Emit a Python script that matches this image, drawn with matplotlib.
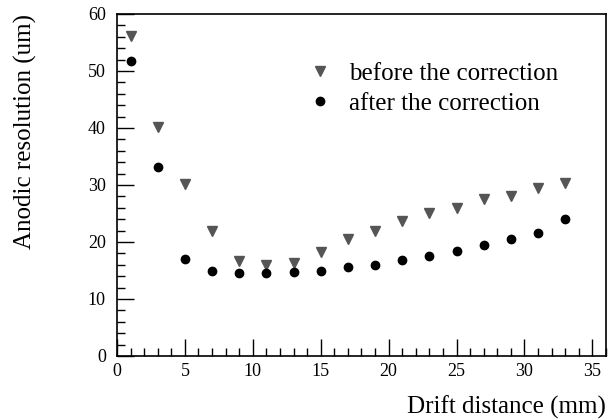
import matplotlib
matplotlib.use("Agg")
import matplotlib.pyplot as plt
from matplotlib.ticker import MultipleLocator

# drift distance (mm) and anodic resolution (um)
drift = [1, 3, 5, 7, 9, 11, 13, 15, 17, 19, 21, 23, 25, 27, 29, 31, 33]
before = [56.2, 40.2, 30.1, 21.9, 16.7, 15.9, 16.4, 18.3, 20.6, 21.9,
          23.7, 25.1, 25.9, 27.5, 28.0, 29.4, 30.4]
after = [51.8, 33.2, 17.0, 14.9, 14.5, 14.6, 14.7, 14.9, 15.6, 15.9,
         16.8, 17.5, 18.4, 19.5, 20.5, 21.6, 24.1]

plt.rcParams['font.family'] = ['Liberation Serif', 'DejaVu Serif']

fig = plt.figure(figsize=(6.08, 4.19), dpi=100)
ax = fig.add_axes([0.1924, 0.1504, 0.8043, 0.8162])

ax.plot(drift, before, 'v', color='#555555', markersize=6.5, label='before the correction')
ax.plot(drift, after, 'o', color='black', markersize=6, label='after the correction')

ax.set_xlim(0, 36)
ax.set_ylim(0, 60)
ax.xaxis.set_major_locator(MultipleLocator(5))
ax.xaxis.set_minor_locator(MultipleLocator(1))
ax.yaxis.set_major_locator(MultipleLocator(10))
ax.yaxis.set_minor_locator(MultipleLocator(2))
ax.tick_params(which='major', direction='in', length=12, width=1, labelsize=13)
ax.tick_params(which='minor', direction='in', length=6, width=1)
ax.tick_params(top=False, right=False, which='both')
ax.tick_params(axis='y', pad=8)
ax.tick_params(axis='x', pad=5)
for s in ax.spines.values():
    s.set_linewidth(1.2)

ax.set_xlabel('Drift distance (mm)', fontsize=18, loc='right')
ax.set_ylabel('Anodic resolution (um)', fontsize=18, loc='top')
ax.xaxis.set_label_coords(1.0, -0.115)
ax.yaxis.set_label_coords(-0.163, 1.0)

ax.legend(loc='upper left', bbox_to_anchor=(0.39, 0.858), frameon=False,
          fontsize=18, handlelength=1, handletextpad=0.66, labelspacing=0.28,
          borderpad=0, borderaxespad=0)

fig.savefig('out.png', dpi=100)
